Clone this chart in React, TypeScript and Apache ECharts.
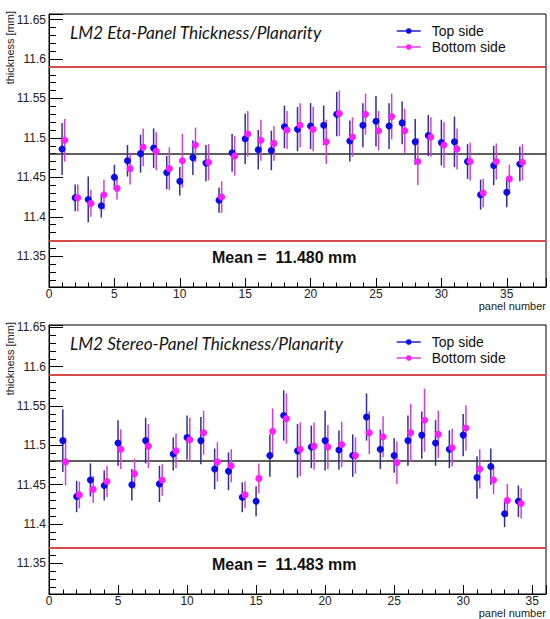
import React, { useEffect, useRef } from 'react';
import * as echarts from 'echarts';

const FONT = '"Liberation Sans", Arial, Helvetica, sans-serif';
const TITLE_FONT = 'Lato, "Open Sans", sans-serif';

// ---------- Eta panel data ----------
const etaPanels = [1, 2, 3, 4, 5, 6, 7, 8, 9, 10, 11, 12, 13, 14, 15, 16, 17, 18, 19, 20, 21, 22, 23, 24, 25, 26, 27, 28, 29, 30, 31, 32, 33, 34, 35, 36];
const etaTopSide = [11.486, 11.424, 11.422, 11.414, 11.450, 11.471, 11.480, 11.487, 11.456, 11.445, 11.475, 11.468, 11.421, 11.481, 11.499, 11.485, 11.484, 11.514, 11.511, 11.515, 11.516, 11.530, 11.496, 11.516, 11.521, 11.515, 11.519, 11.495, 11.503, 11.494, 11.495, 11.470, 11.428, 11.465, 11.431, 11.467];
const etaTopSideErr = [0.033, 0.017, 0.029, 0.015, 0.016, 0.020, 0.024, 0.025, 0.021, 0.018, 0.022, 0.023, 0.016, 0.024, 0.032, 0.025, 0.025, 0.027, 0.028, 0.029, 0.025, 0.028, 0.026, 0.028, 0.032, 0.029, 0.027, 0.029, 0.026, 0.029, 0.032, 0.022, 0.019, 0.025, 0.019, 0.022];
const etaBottomSide = [11.497, 11.424, 11.417, 11.428, 11.436, 11.461, 11.488, 11.483, 11.461, 11.471, 11.491, 11.469, 11.425, 11.477, 11.505, 11.497, 11.493, 11.510, 11.516, 11.511, 11.495, 11.531, 11.501, 11.530, 11.509, 11.527, 11.509, 11.470, 11.501, 11.491, 11.486, 11.470, 11.430, 11.470, 11.448, 11.469];
const etaBottomSideErr = [0.027, 0.017, 0.017, 0.019, 0.014, 0.020, 0.024, 0.024, 0.027, 0.034, 0.022, 0.023, 0.020, 0.025, 0.029, 0.026, 0.022, 0.024, 0.028, 0.028, 0.028, 0.029, 0.025, 0.026, 0.025, 0.029, 0.028, 0.030, 0.025, 0.029, 0.026, 0.024, 0.018, 0.023, 0.018, 0.023];
const ETA_MEAN = 11.48;

// ---------- Stereo panel data ----------
const stereoPanels = [1, 2, 3, 4, 5, 6, 7, 8, 9, 10, 11, 12, 13, 14, 15, 16, 17, 18, 19, 20, 21, 22, 23, 24, 25, 26, 27, 28, 29, 30, 31, 32, 33, 34];
const stereoTopSide = [11.506, 11.435, 11.456, 11.449, 11.503, 11.450, 11.506, 11.451, 11.489, 11.510, 11.506, 11.470, 11.467, 11.434, 11.429, 11.487, 11.538, 11.493, 11.498, 11.506, 11.494, 11.487, 11.536, 11.495, 11.487, 11.506, 11.513, 11.503, 11.495, 11.513, 11.459, 11.473, 11.413, 11.429];
const stereoTopSideErr = [0.040, 0.020, 0.021, 0.019, 0.029, 0.020, 0.029, 0.023, 0.021, 0.028, 0.030, 0.026, 0.024, 0.019, 0.019, 0.027, 0.032, 0.034, 0.027, 0.038, 0.025, 0.027, 0.030, 0.025, 0.022, 0.032, 0.030, 0.029, 0.024, 0.027, 0.027, 0.023, 0.017, 0.020];
const stereoBottomSide = [11.479, 11.437, 11.444, 11.454, 11.495, 11.464, 11.499, 11.456, 11.493, 11.507, 11.516, 11.479, 11.474, 11.437, 11.458, 11.518, 11.534, 11.495, 11.499, 11.498, 11.501, 11.487, 11.516, 11.511, 11.478, 11.516, 11.532, 11.514, 11.497, 11.522, 11.470, 11.456, 11.430, 11.426];
const stereoBottomSideErr = [0.030, 0.017, 0.017, 0.020, 0.025, 0.019, 0.028, 0.020, 0.022, 0.028, 0.028, 0.025, 0.021, 0.017, 0.019, 0.029, 0.032, 0.034, 0.030, 0.028, 0.029, 0.023, 0.027, 0.026, 0.027, 0.037, 0.040, 0.030, 0.024, 0.029, 0.025, 0.018, 0.021, 0.019];
const STEREO_MEAN = 11.483;

const LIMIT_OFFSET = 0.11;
const BOTTOM_SIDE_SHIFT = 0.2;
const LEGEND_NAMES = ['Top side', 'Bottom side'];

const BLUE = '#0c0ce8';
const BLUE_BAR = '#30309a';
const BLUE_LINE = '#2222c8';
const MAGENTA = '#ff1eff';
const MAGENTA_BAR = '#d040d8';
const MAGENTA_LINE = '#e040e8';
const RED = '#d84848';

const charts = [
  {
    title: 'LM2 Eta-Panel Thickness/Planarity',
    panels: etaPanels, top: etaTopSide, topErr: etaTopSideErr,
    bottom: etaBottomSide, bottomErr: etaBottomSideErr, mean: ETA_MEAN,
    xMax: 38, yMin: 11.311, yMax: 11.657,
    grid: { left: 49, top: 14, width: 497, height: 273 },
  },
  {
    title: 'LM2 Stereo-Panel Thickness/Planarity',
    panels: stereoPanels, top: stereoTopSide, topErr: stereoTopSideErr,
    bottom: stereoBottomSide, bottomErr: stereoBottomSideErr, mean: STEREO_MEAN,
    xMax: 36, yMin: 11.311, yMax: 11.653,
    grid: { left: 49, top: 325, width: 497, height: 269 },
  },
];

function errBar(color: string) {
  return (_params: any, api: any) => {
    const x = api.value(0);
    const y = api.value(1);
    const e = api.value(2);
    const a = api.coord([x, y - e]);
    const b = api.coord([x, y + e]);
    return {
      type: 'line',
      shape: { x1: a[0], y1: a[1], x2: b[0], y2: b[1] },
      style: { stroke: color, lineWidth: 1.5 },
    };
  };
}

function buildOption() {
  const grid: any[] = [];
  const xAxis: any[] = [];
  const yAxis: any[] = [];
  const series: any[] = [];
  const legend: any[] = [];
  const title: any[] = [];
  const graphic: any[] = [];

  charts.forEach((c, idx) => {
    const g = c.grid;
    grid.push({ ...g, show: true, borderColor: '#000', borderWidth: 1, backgroundColor: 'transparent', containLabel: false, outerBoundsMode: 'none' });
    xAxis.push({
      gridIndex: idx, type: 'value', min: 0, max: c.xMax, interval: 5,
      axisLine: { show: true, onZero: false, lineStyle: { color: '#000', width: 1 } },
      axisTick: { show: true, inside: true, length: 9, lineStyle: { color: '#000', width: 1 } },
      minorTick: { show: true, splitNumber: 5, length: 4.5, lineStyle: { color: '#000', width: 1 } },
      splitLine: { show: false },
      minorSplitLine: { show: false },
      axisLabel: {
        margin: 1, fontSize: 12, color: '#222', fontFamily: FONT, showMaxLabel: false,
        formatter: (v: number) => (Math.abs(v / 5 - Math.round(v / 5)) < 1e-6 ? String(v) : ''),
      },
    });
    yAxis.push({
      gridIndex: idx, type: 'value', min: c.yMin, max: c.yMax, splitNumber: 7,
      axisLine: { show: true, onZero: false, lineStyle: { color: '#000', width: 1 } },
      axisTick: { show: true, inside: true, length: 14, lineStyle: { color: '#000', width: 1 } },
      minorTick: { show: true, splitNumber: 5, length: 7, lineStyle: { color: '#000', width: 1 } },
      splitLine: { show: false },
      minorSplitLine: { show: false },
      axisLabel: {
        margin: 3, fontSize: 12, color: '#222', fontFamily: FONT, showMinLabel: false, showMaxLabel: false,
        formatter: (v: number) => (Math.abs(v * 20 - Math.round(v * 20)) < 1e-6 ? String(Math.round(v * 100) / 100) : ''),
      },
    });

    const topData = c.panels.map((p, i) => [p, c.top[i], c.topErr[i]]);
    const botData = c.panels.map((p, i) => [p + BOTTOM_SIDE_SHIFT, c.bottom[i], c.bottomErr[i]]);

    series.push({
      type: 'custom', name: 'Top side error', xAxisIndex: idx, yAxisIndex: idx,
      data: topData, renderItem: errBar(BLUE_BAR), encode: { x: 0, y: 1 }, z: 3, silent: true,
      markLine: {
        silent: true, symbol: 'none', z: 2, animation: false, label: { show: false },
        emphasis: { disabled: true },
        data: [
          { yAxis: c.mean, lineStyle: { color: '#2a2a2a', width: 1.5, type: 'solid' } },
          { yAxis: c.mean + LIMIT_OFFSET, lineStyle: { color: RED, width: 2, type: 'solid' } },
          { yAxis: c.mean - LIMIT_OFFSET, lineStyle: { color: RED, width: 2, type: 'solid' } },
        ],
      },
    });
    series.push({
      type: 'custom', name: 'Bottom side error', xAxisIndex: idx, yAxisIndex: idx,
      data: botData, renderItem: errBar(MAGENTA_BAR), encode: { x: 0, y: 1 }, z: 3, silent: true,
    });
    series.push({
      type: 'line', name: 'Top side', xAxisIndex: idx, yAxisIndex: idx,
      data: topData.map((d) => [d[0], d[1]]), symbol: 'circle', symbolSize: 7, showSymbol: true,
      itemStyle: { color: BLUE }, lineStyle: { color: BLUE_LINE, width: 0, opacity: 0 }, z: 5,
      emphasis: { disabled: true },
    });
    series.push({
      type: 'line', name: 'Bottom side', xAxisIndex: idx, yAxisIndex: idx,
      data: botData.map((d) => [d[0], d[1]]), symbol: 'circle', symbolSize: 7, showSymbol: true,
      itemStyle: { color: MAGENTA }, lineStyle: { color: MAGENTA_LINE, width: 0, opacity: 0 }, z: 6,
      emphasis: { disabled: true },
    });

    legend.push({
      left: 396, top: g.top + 10, orient: 'vertical', padding: 0,
      itemWidth: 24, itemHeight: 7, itemGap: 2, selectedMode: false,
      data: LEGEND_NAMES,
      lineStyle: { width: 1.5, opacity: 1 },
      textStyle: { fontSize: 14, fontFamily: FONT, color: '#111', padding: [0, 0, 0, 6] },
    });

    title.push({
      text: c.title, left: 70, top: g.top + 10, padding: 0,
      textStyle: { fontSize: 17.3, fontStyle: 'italic', fontWeight: 'normal', fontFamily: TITLE_FONT, color: '#151515' },
    });

    graphic.push({
      type: 'text', x: 212, y: g.top + g.height - 30, silent: true,
      style: { text: `Mean =  ${c.mean.toFixed(3)} mm`, fontSize: 16, fontWeight: 'bold', fontFamily: FONT, fill: '#111', align: 'left', verticalAlign: 'middle' },
    });
    graphic.push({
      type: 'text', x: 10, y: g.top - 3, rotation: Math.PI / 2, silent: true,
      style: { text: 'thickness [mm]', fontSize: 11, fontFamily: FONT, fill: '#222', align: 'right', verticalAlign: 'middle' },
    });
    graphic.push({
      type: 'text', x: g.left + g.width, y: g.top + g.height + 19, silent: true,
      style: { text: 'panel number', fontSize: 11, fontFamily: FONT, fill: '#222', align: 'right', verticalAlign: 'middle' },
    });
  });

  return { animation: false, backgroundColor: '#fff', grid, xAxis, yAxis, series, legend, title, graphic };
}

export default function App() {
  const ref = useRef<HTMLDivElement>(null);
  useEffect(() => {
    if (!ref.current) return;
    const chart = echarts.init(ref.current, null, { renderer: 'svg' });
    chart.setOption(buildOption() as any);
    return () => chart.dispose();
  }, []);
  return <div ref={ref} style={{ position: 'fixed', left: 0, top: 0, width: 550, height: 619 }} />;
}
